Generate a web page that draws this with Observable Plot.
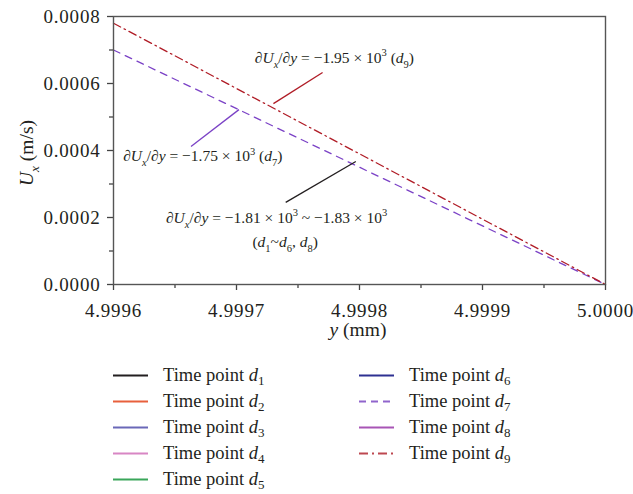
<!DOCTYPE html>
<html><head><meta charset="utf-8">
<script src="https://cdn.jsdelivr.net/npm/d3@7"></script>
<script src="https://cdn.jsdelivr.net/npm/@observablehq/plot@0.6"></script>
<style>
body{margin:0;background:#fff;font-family:"Liberation Serif",serif;color:#231f20}
#wrap{position:relative;width:633px;height:494px;overflow:hidden}
#wrap svg.plot{position:absolute;left:0;top:0}
#wrap svg.plot text{font-family:"Liberation Serif",serif !important}
g[aria-label$="tick label"] text{letter-spacing:0.8px;font-size:19px}
.lg{position:absolute;height:26px;line-height:26px;font-size:18.5px;white-space:nowrap}
.lg svg{position:absolute;left:0;top:0}
.lg span{position:absolute;top:0}
.lg sub{font-size:13px;vertical-align:-4px;line-height:0}
</style></head><body><div id="wrap"></div>
<script>
// ---- data ----
const xTicks = [4.9996, 4.9997, 4.9998, 4.9999, 5.0000];
const xMinor = [4.99965, 4.99975, 4.99985, 4.99995];
const yTicks = [0, 0.0002, 0.0004, 0.0006, 0.0008];
const yMinor = [0.0001, 0.0003, 0.0005, 0.0007];

const legendIds    = ["1", "2", "3", "4", "5", "6", "7", "8", "9"];
const legendColors = ["#231f20", "#e8603c", "#6a68b8", "#d886c4", "#3aa65a", "#2e3192", "#9064cc", "#a855b5", "#bd4850"];
const legendDash   = [null, null, null, null, null, null, "7,5", null, "9,4,2,4"];

const lineX = [4.9996, 5.0000];
const d7Values = [0.00070, 0];
const d9Values = [0.00078, 0];
const d7Color = "#7b42c6", d9Color = "#b01c26";

// leader lines of annotations (data coords)
const leaderX1 = [4.99973, 4.999663, 4.99974];
const leaderY1 = [0.000540, 0.000412, 0.000245];
const leaderX2 = [4.99977, 4.999702, 4.999797];
const leaderY2 = [0.000633, 0.000522, 0.000367];
const leaderColor = [d9Color, d7Color, "#231f20"];

// ---- build ----
const fmt = d3.format(".4f");
const d7 = lineX.map((x, i) => ({x, y: d7Values[i]}));
const d9 = lineX.map((x, i) => ({x, y: d9Values[i]}));
const leaders = leaderX1.map((x1, i) => ({x1, y1: leaderY1[i], x2: leaderX2[i], y2: leaderY2[i], c: leaderColor[i]}));

const axStroke = "#444";
const plot = Plot.plot({
  width: 633, height: 345,
  marginTop: 16, marginLeft: 113, marginRight: 28, marginBottom: 61,
  style: {fontFamily: "'Liberation Serif', serif", fontSize: "19px", color: "#231f20", background: "transparent", overflow: "visible"},
  x: {domain: [4.9996, 5.0]},
  y: {domain: [0, 0.0008]},
  marks: [
    Plot.axisX(xTicks, {tickSize: 6, tickPadding: 13, tickFormat: fmt, label: null, stroke: axStroke, strokeWidth: 1.3}),
    Plot.axisX(xMinor, {tickSize: 4, tickFormat: () => "", label: null, stroke: axStroke, strokeWidth: 1.3}),
    Plot.axisY(yTicks, {tickSize: 6, tickPadding: 7, tickFormat: fmt, label: null, stroke: axStroke, strokeWidth: 1.3}),
    Plot.axisY(yMinor, {tickSize: 4, tickFormat: () => "", label: null, stroke: axStroke, strokeWidth: 1.3}),
    Plot.line(d7, {x: "x", y: "y", stroke: d7Color, strokeWidth: 1.3, strokeDasharray: "7,6"}),
    Plot.line(d9, {x: "x", y: "y", stroke: d9Color, strokeWidth: 1.3, strokeDasharray: "8,4,1.5,4"}),
    Plot.link(leaders, {x1: "x1", y1: "y1", x2: "x2", y2: "y2", stroke: "c", strokeWidth: 1.3}),
    Plot.frame({stroke: "#555", strokeWidth: 1.4})
  ]
});
plot.classList.add("plot");
document.getElementById("wrap").appendChild(plot);

const sx = plot.scale("x"), sy = plot.scale("y");
const svg = d3.select(plot);
const g = svg.append("g").attr("fill", "#231f20");

function rich(x, y, segs, size, rotate) {
  const t = g.append("text").attr("text-anchor", "middle").attr("font-size", size);
  if (rotate) t.attr("transform", `translate(${x},${y}) rotate(${rotate})`);
  else t.attr("x", x).attr("y", y);
  let shift = 0;
  for (const s of segs) {
    const target = s.sub ? size * 0.3 : s.sup ? -size * 0.42 : 0;
    t.append("tspan").attr("dy", target - shift)
      .attr("font-style", s.i ? "italic" : "normal")
      .attr("font-size", (s.sub || s.sup) ? size * 0.68 : size)
      .text(s.t);
    shift = target;
  }
}
const dUdy = [{t: "∂"}, {t: "U", i: 1}, {t: "x", i: 1, sub: 1}, {t: "/∂"}, {t: "y", i: 1}];
// annotations (anchored in data coordinates)
rich(sx.apply(4.99978), sy.apply(0.000675) + 5, [...dUdy, {t: " = −1.95 × 10"}, {t: "3", sup: 1}, {t: " ("}, {t: "d", i: 1}, {t: "9", sub: 1}, {t: ")"}], 15.5);
rich(sx.apply(4.999673), sy.apply(0.000382) + 5, [...dUdy, {t: " = −1.75 × 10"}, {t: "3", sup: 1}, {t: " ("}, {t: "d", i: 1}, {t: "7", sub: 1}, {t: ")"}], 15.5);
rich(sx.apply(4.999733), sy.apply(0.000197) + 5, [...dUdy, {t: " = −1.81 × 10"}, {t: "3", sup: 1}, {t: " ~ −1.83 × 10"}, {t: "3", sup: 1}], 15.5);
rich(sx.apply(4.99974), sy.apply(0.000125) + 5, [{t: "("}, {t: "d", i: 1}, {t: "1", sub: 1}, {t: "~"}, {t: "d", i: 1}, {t: "6", sub: 1}, {t: ", "}, {t: "d", i: 1}, {t: "8", sub: 1}, {t: ")"}], 15.5);
// axis titles
rich(358, 336, [{t: "y", i: 1}, {t: " (mm)"}], 19.5);
rich(33, 153, [{t: "U", i: 1}, {t: "x", i: 1, sub: 1}, {t: " (m/s)"}], 19.5, -90);
svg.selectAll("text").style("font-family", "'Liberation Serif', serif");

// legend
const wrap = document.getElementById("wrap");
legendIds.forEach((id, i) => {
  const col = i < 5 ? 0 : 1, row = i < 5 ? i : i - 5;
  const left = col === 0 ? 113 : 359;
  const div = document.createElement("div");
  div.className = "lg";
  div.style.left = left + "px";
  div.style.top = (362 + row * 26) + "px";
  const s = d3.create("svg").attr("width", 36).attr("height", 26);
  s.append("line").attr("x1", 0).attr("x2", 35).attr("y1", 13.5).attr("y2", 13.5)
    .attr("stroke", legendColors[i]).attr("stroke-width", 2)
    .attr("stroke-dasharray", legendDash[i]);
  div.appendChild(s.node());
  const span = document.createElement("span");
  span.style.left = "50px";
  span.innerHTML = `Time point <i>d</i><sub>${id}</sub>`;
  div.appendChild(span);
  wrap.appendChild(div);
});
</script>
</body></html>
